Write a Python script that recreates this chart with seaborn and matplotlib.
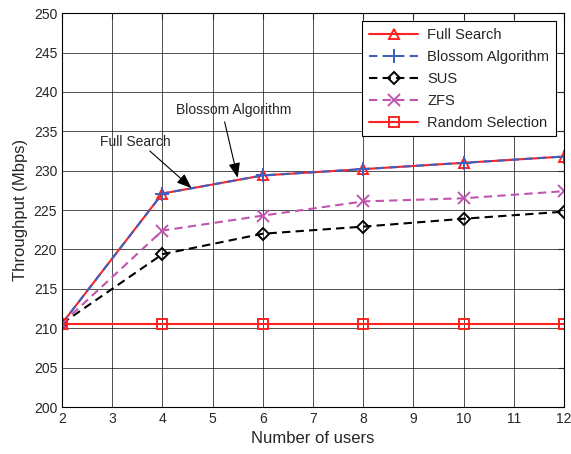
import numpy as np
import pandas as pd
import matplotlib
matplotlib.use('Agg')
import matplotlib.pyplot as plt
import seaborn as sns

users = [2, 4, 6, 8, 10, 12]
full_search = [210.6, 227.1, 229.4, 230.2, 231.0, 231.8]
blossom = [210.6, 227.1, 229.4, 230.2, 231.0, 231.8]
sus = [210.6, 219.4, 222.0, 222.9, 223.9, 224.8]
zfs = [210.6, 222.4, 224.3, 226.1, 226.5, 227.4]
random_sel = [210.6, 210.6, 210.6, 210.6, 210.6, 210.6]

sns.set_style('white')
plt.rcParams['font.family'] = ['Liberation Sans', 'DejaVu Sans']

fig = plt.figure(figsize=(5.71, 4.54), dpi=100)
ax = fig.add_axes([0.1086, 0.1035, 0.879, 0.8675])

red = '#ff2222'
dash = (0, (4, 2.5))
series = [
    ('Full Search', full_search, red, '-', '^', 7, 'none'),
    ('Blossom Algorithm', blossom, '#3f5fbf', dash, '+', 10, '#3f5fbf'),
    ('SUS', sus, 'black', dash, 'D', 6, 'none'),
    ('ZFS', zfs, '#c055b0', dash, 'x', 8, '#c055b0'),
    ('Random Selection', random_sel, red, '-', 's', 7, 'none'),
]
for name, vals, col, ls, mk, ms, fc in series:
    df = pd.DataFrame({'x': users, 'y': vals})
    sns.lineplot(data=df, x='x', y='y', ax=ax, label=name, linewidth=1.5,
                 color=col, linestyle=ls, marker=mk, markersize=ms,
                 markerfacecolor=fc, markeredgecolor=col, markeredgewidth=1.4)

ax.set_xlim(2, 12)
ax.set_ylim(200, 250)
ax.set_xticks(range(2, 13))
ax.set_yticks(range(200, 251, 5))
ax.grid(True, color='black', linewidth=0.6, alpha=0.8)
ax.tick_params(direction='in', top=True, right=True, labelsize=10, length=4)
for s in ax.spines.values():
    s.set_color('black')
    s.set_linewidth(0.8)
ax.set_xlabel('Number of users', fontsize=12)
ax.set_ylabel('Throughput (Mbps)', fontsize=12)

leg = ax.legend(loc='upper right', fontsize=10.5, frameon=True, fancybox=False,
                edgecolor='black', framealpha=1, handlelength=3.4, borderpad=0.45,
                labelspacing=0.55, handletextpad=0.6, bbox_to_anchor=(0.998, 0.998))
leg.get_frame().set_linewidth(0.8)

arrow = dict(arrowstyle='-|>,head_width=0.35,head_length=0.9', color='black', lw=0.8, shrinkA=0, shrinkB=0)
ax.annotate('', xy=(4.58, 227.8), xytext=(3.75, 232.5), arrowprops=arrow)
ax.text(3.46, 233.6, 'Full Search', ha='center', va='center', fontsize=10)
ax.annotate('', xy=(5.5, 229.1), xytext=(5.24, 236.2), arrowprops=arrow)
ax.text(5.42, 237.7, 'Blossom Algorithm', ha='center', va='center', fontsize=10)

fig.savefig('out.png', dpi=100)
